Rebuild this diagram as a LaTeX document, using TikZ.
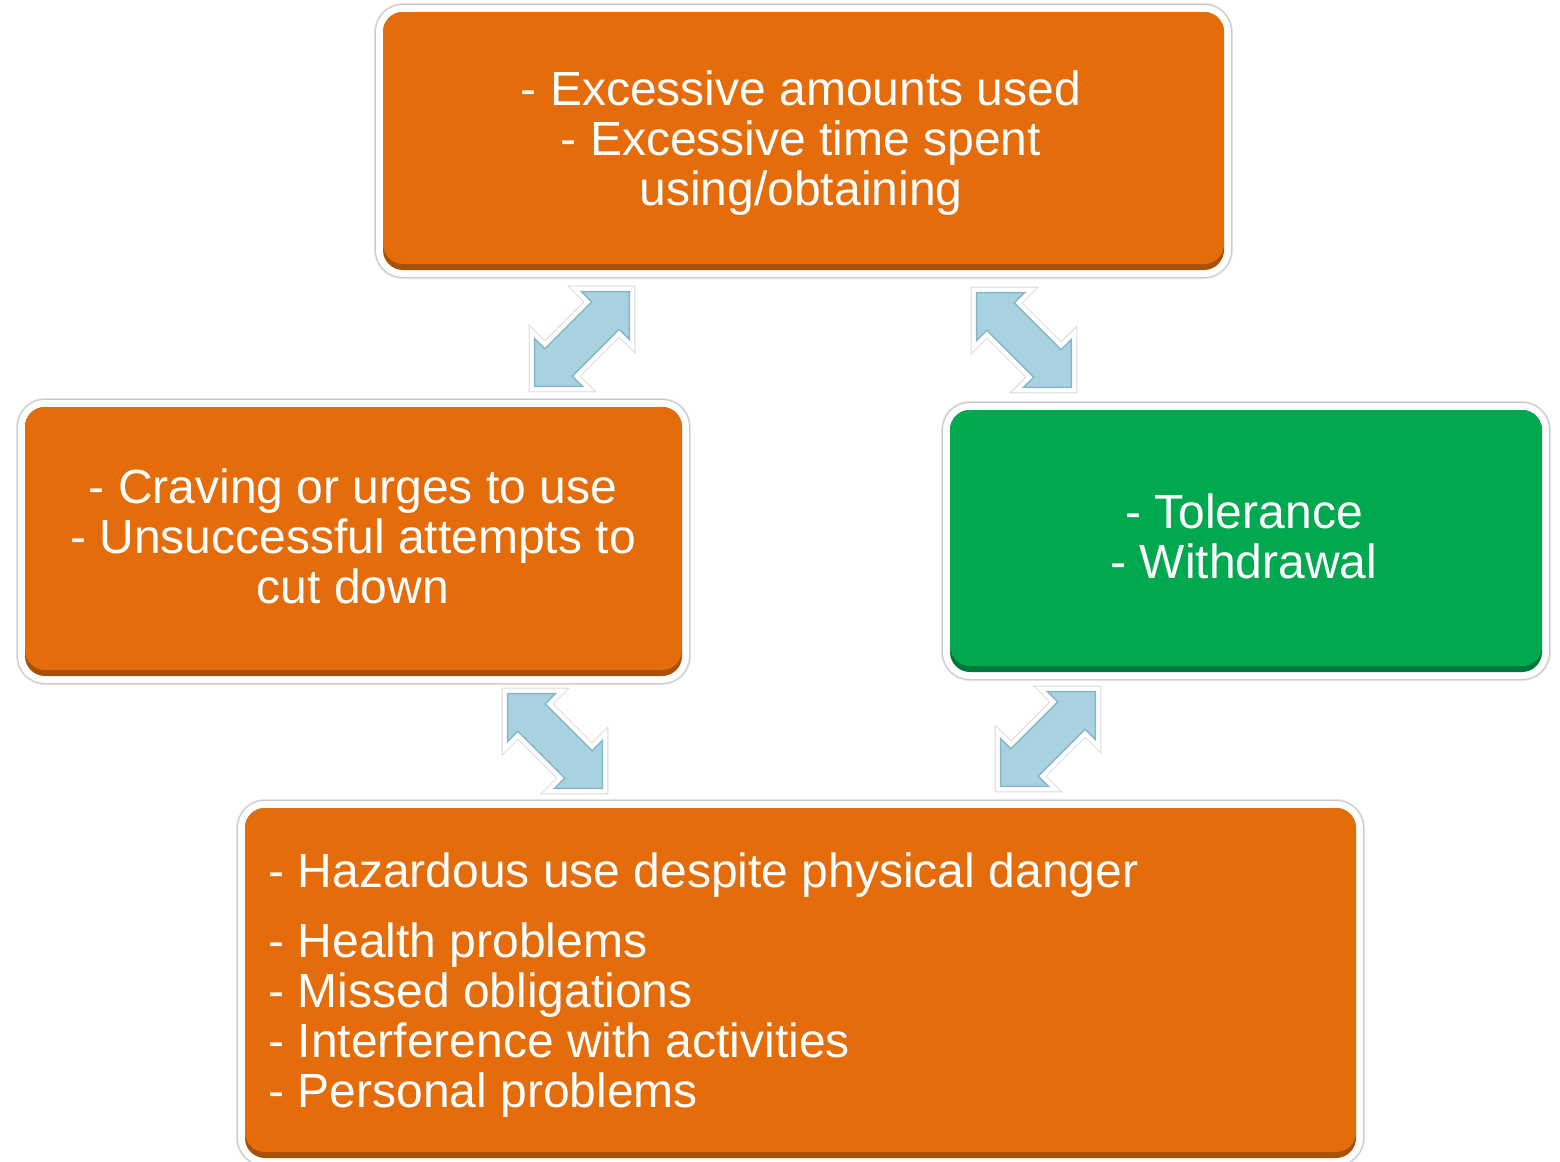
\documentclass[tikz,border=0pt]{standalone}
\usepackage{fontspec}
\setmainfont{Liberation Sans}
\usetikzlibrary{shapes.arrows}
\definecolor{boxorange}{HTML}{E46C0A}
\definecolor{boxorangedark}{HTML}{A84F08}
\definecolor{boxgreen}{HTML}{00A84F}
\definecolor{boxgreendark}{HTML}{00773A}
\definecolor{arrowblue}{HTML}{A8D2E0}
\definecolor{arrowdark}{HTML}{86B6C8}
\tikzset{
  panel/.style 2 args={rectangle, rounded corners=10pt, inner sep=0pt, outer sep=0pt,
    fill=#2,
    preaction={draw=black!10, line width=9pt},
    preaction={draw=black!22, line width=8pt},
    preaction={draw=white, line width=7pt},
    path picture={\fill[#1, rounded corners=10pt]
      (path picture bounding box.north west) rectangle ([yshift=3pt]path picture bounding box.south east);}},
  label/.style={text=white, font=\fontsize{24}{25}\selectfont, inner sep=0pt},
  dblarrow/.style={double arrow, double arrow tip angle=90, double arrow head extend=7.25pt,
    minimum height=67pt, minimum width=33.5pt, inner xsep=0pt, inner ysep=9.5pt, fill=arrowblue,
    preaction={draw=black!15, line width=6pt},
    preaction={draw=white, line width=5pt},
    postaction={draw=arrowdark, line width=0.7pt}}
}
\begin{document}
\begin{tikzpicture}[x=0.5pt, y=-0.5pt]
\useasboundingbox (0,0) rectangle (1560,1162);
% boxes
\node[panel={boxorange}{boxorangedark}, minimum width=420.5pt, minimum height=129pt] (topbox) at (803.5,141) {};
\node[panel={boxorange}{boxorangedark}, minimum width=328.5pt, minimum height=134.5pt] (leftbox) at (353.5,541.5) {};
\node[panel={boxgreen}{boxgreendark}, minimum width=296pt, minimum height=131pt] (rightbox) at (1246,541) {};
\node[panel={boxorange}{boxorangedark}, minimum width=555.5pt, minimum height=175pt] (bottombox) at (800.5,983) {};
% arrows
\node[dblarrow, rotate=45] (arrowTL) at (582,339) {};
\node[dblarrow, rotate=-45] (arrowTR) at (1024,340) {};
\node[dblarrow, rotate=-45] (arrowBL) at (555,741) {};
\node[dblarrow, rotate=45] (arrowBR) at (1048,739) {};
% texts
\node[label, align=center, anchor=base] (toptext) at (801,205)
  {- Excessive amounts used\\- Excessive time spent\\using/obtaining};
\node[label, align=center, anchor=base] (lefttext) at (353,603)
  {- Craving or urges to use\\- Unsuccessful attempts to\\cut down};
\node[label, align=center, anchor=base] (righttext) at (1244,578)
  {- Tolerance\\- Withdrawal};
\node[label, align=left, anchor=base west] (bottomtext) at (268,1107)
  {- Hazardous use despite physical danger\\[10pt]- Health problems\\- Missed obligations\\- Interference with activities\\- Personal problems};
\end{tikzpicture}
\end{document}
